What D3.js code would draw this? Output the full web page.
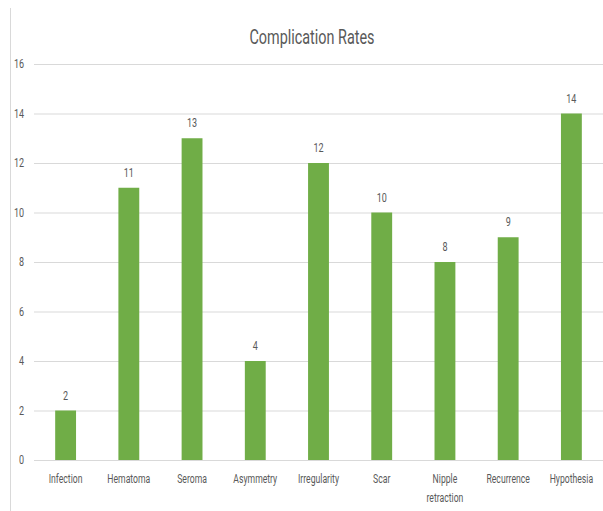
<!DOCTYPE html>
<html>
<head>
<meta charset="utf-8">
<script src="https://cdn.jsdelivr.net/npm/d3@7"></script>
<style>
  body { margin: 0; background: #fff; }
  text { font-family: "Roboto", sans-serif; fill: #595959; }
</style>
</head>
<body>
<div id="chart"></div>
<script>
// data
const categories = ["Infection", "Hematoma", "Seroma", "Asymmetry", "Irregularity", "Scar", "Nipple retraction", "Recurrence", "Hypothesia"];
const rates = [2, 11, 13, 4, 12, 10, 8, 9, 14];
const yTicks = [0, 2, 4, 6, 8, 10, 12, 14, 16];

const W = 603, H = 511;
const margin = {top: 64, right: 0, bottom: 51, left: 34};
const width = W - margin.left - margin.right;
const height = H - margin.top - margin.bottom;

// squeeze text horizontally (reference uses a condensed face)
function condense(sel, f) {
    sel.each(function() {
        const len = this.getComputedTextLength();
        d3.select(this)
            .attr("textLength", len * f)
            .attr("lengthAdjust", "spacingAndGlyphs");
    });
}

const svg = d3.select("#chart")
    .append("svg")
    .attr("width", W)
    .attr("height", H);

// left border of the chart area
svg.append("line")
    .attr("x1", 10.5).attr("x2", 10.5)
    .attr("y1", 8).attr("y2", H)
    .attr("stroke", "#d9d9d9")
    .attr("stroke-width", 1);

// title
svg.append("text")
    .attr("x", 312)
    .attr("y", 44)
    .attr("text-anchor", "middle")
    .style("font-size", "20px")
    .text("Complication Rates")
    .call(condense, 0.72);

const g = svg.append("g")
    .attr("transform", `translate(${margin.left},${margin.top})`);

const x = d3.scaleBand()
    .domain(categories)
    .range([0, width])
    .paddingInner(0.67)
    .paddingOuter(0.335);

const y = d3.scaleLinear()
    .domain([0, 16])
    .range([height, 0]);

// gridlines + y labels
const yAxis = g.append("g")
    .call(d3.axisLeft(y).tickValues(yTicks).tickSize(-width).tickPadding(10));
yAxis.select(".domain").remove();
yAxis.selectAll(".tick line").attr("stroke", "#d9d9d9");
yAxis.selectAll(".tick text")
    .style("font-size", "12px")
    .attr("fill", "#595959")
    .call(condense, 0.75);

// bars
g.selectAll(".bar")
    .data(rates)
    .enter()
    .append("rect")
    .attr("class", "bar")
    .attr("x", (d, i) => x(categories[i]))
    .attr("y", d => y(d))
    .attr("width", x.bandwidth())
    .attr("height", d => height - y(d))
    .attr("fill", "#70ad47");

// value labels
g.selectAll(".val")
    .data(rates)
    .enter()
    .append("text")
    .attr("class", "val")
    .attr("x", (d, i) => x(categories[i]) + x.bandwidth() / 2)
    .attr("y", d => y(d) - 11)
    .attr("text-anchor", "middle")
    .style("font-size", "12px")
    .text(d => d)
    .call(condense, 0.75);

// x axis labels (wrap two words)
const xAxis = g.append("g")
    .attr("transform", `translate(0,${height})`)
    .call(d3.axisBottom(x).tickSize(0).tickPadding(0));
xAxis.select(".domain").remove();
xAxis.selectAll(".tick text").remove();
xAxis.selectAll(".tick")
    .append("text")
    .attr("text-anchor", "middle")
    .style("font-size", "12px")
    .each(function(d) {
        const words = d.split(" ");
        const t = d3.select(this);
        words.forEach((w, k) => {
            t.append("tspan")
                .attr("x", 0)
                .attr("y", 23 + k * 19)
                .text(w);
        });
    });
xAxis.selectAll("tspan").call(condense, 0.72);
</script>
</body>
</html>
